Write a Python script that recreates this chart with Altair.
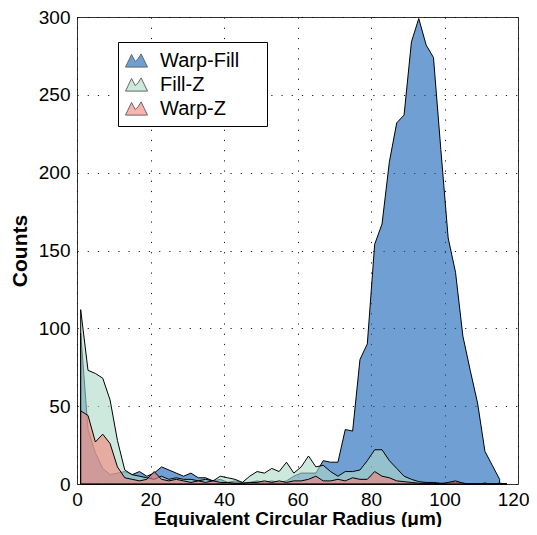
import altair as alt
import pandas as pd

# bin centres (µm)
x_vals = [1, 3, 5, 7, 9, 11, 13, 15, 17, 19, 21, 23, 25, 27, 29, 31, 33, 35, 37, 39,
          41, 43, 45, 47, 49, 51, 53, 55, 57, 59, 61, 63, 65, 67, 69, 71, 73, 75, 77, 79,
          81, 83, 85, 87, 89, 91, 93, 95, 97, 99, 101, 103, 105, 107, 109, 111, 113, 115, 117]

warp_fill = [97, 35, 20, 10, 6, 7, 8, 6, 8, 5, 7, 11, 9, 7, 5, 7, 4, 4, 2, 3,
             1, 2, 1, 1, 2, 1, 2, 1, 2, 5, 7, 7, 7, 15, 14, 14, 35, 34, 80, 90,
             154, 167, 207, 232, 237, 284, 299, 282, 274, 215, 158, 136, 95, 73, 52, 21, 12, 3]

fill_z = [112, 73, 71, 68, 54, 28, 9, 6, 5, 4, 3, 5, 3, 4, 3, 3, 2, 3, 2, 5,
          4, 3, 1, 5, 8, 7, 10, 8, 14, 7, 11, 18, 11, 12, 8, 5, 8, 8, 9, 15,
          22, 22, 15, 10, 5, 3, 1.5, 1, 1, 0.5, 0.5, 1, 0.5, 0, 0, 0.5, 0, 0, 0]

warp_z = [47, 44, 27, 32, 26, 11, 4, 3, 2, 3, 8, 3, 2, 3, 2, 1, 2, 1, 2, 1,
          1, 0.5, 0.5, 1, 1, 2, 1, 2, 1, 2, 2, 3, 5, 2, 2, 3, 2, 4, 3, 3,
          8, 5, 4, 2, 1.5, 1, 0.5, 0.5, 0.5, 0, 1, 2, 0.5, 0, 0, 0.5, 0, 0.5, 0]

series_names = ["Warp-Fill", "Fill-Z", "Warp-Z"]
series_colors = ["#115fb7", "#acd9c5", "#f7827a"]

rows = []
for name, vals in zip(series_names, [warp_fill, fill_z, warp_z]):
    for xv, yv in zip(x_vals, vals):
        rows.append({"radius": xv, "count": yv, "series": name})
df = pd.DataFrame(rows)

FONT = "Liberation Sans"
mountain = "M-1,0.6 L-0.45,-0.55 L-0.12,0.1 L0.12,-0.12 L0.42,-0.6 L1,0.6 Z"

color = alt.Color(
    "series:N",
    scale=alt.Scale(domain=series_names, range=series_colors),
    sort=series_names,
    legend=alt.Legend(
        orient="none", legendX=41, legendY=25, title=None,
        symbolType=mountain, symbolSize=484, symbolStrokeColor="black",
        symbolStrokeWidth=1, symbolOpacity=0.6,
        labelFont=FONT, labelFontSize=20, labelColor="black", labelOffset=12,
        labelExpr="datum.label + '\u00a0\u2800'",
        padding=7, rowPadding=2, strokeColor="black", fillColor="white",
        cornerRadius=0,
    ),
)

xenc = alt.X(
    "radius:Q",
    scale=alt.Scale(domain=[0, 120], nice=False),
    axis=alt.Axis(
        values=[0, 20, 40, 60, 80, 100, 120], title="Equivalent Circular Radius (μm)",
        labelPadding=6, titlePadding=0, titleFontSize=19,
        labelAlign={"condition": {"test": "datum.value == 120", "value": "right"}, "value": "center"},
        labelOffset={"condition": {"test": "datum.value == 120", "value": 11}, "value": 0},
    ),
)
yenc = alt.Y(
    "count:Q",
    stack=None,
    scale=alt.Scale(domain=[0, 300], nice=False),
    axis=alt.Axis(values=[0, 50, 100, 150, 200, 250, 300], title="Counts",
                  labelPadding=7, titlePadding=8, titleFontSize=21),
)

layers = []
for name in series_names:
    layers.append(
        alt.Chart(df)
        .transform_filter(alt.datum.series == name)
        .mark_area(fillOpacity=0.6, stroke="black", strokeWidth=1, interpolate="linear")
        .encode(x=xenc, y=yenc, color=color)
    )

chart = (
    alt.layer(*layers)
    .properties(
        width=441, height=467,
        autosize=alt.AutoSizeParams(type="none"),
        padding={"left": 69, "top": 9, "right": 11, "bottom": 43},
    )
    .configure_view(stroke="#333333", strokeWidth=1)
    .configure_axis(
        labelFont=FONT, labelFontSize=19, labelColor="black", labelFlush=False,
        titleFont=FONT, titleFontWeight="bold", titleColor="black",
        grid=True, gridColor="black", gridDash=[1.2, 9], gridWidth=1, gridOpacity=0.9,
        ticks=False, domain=False,
    )
)

chart.save("out.html", embed_options={"renderer": "svg", "actions": False})
